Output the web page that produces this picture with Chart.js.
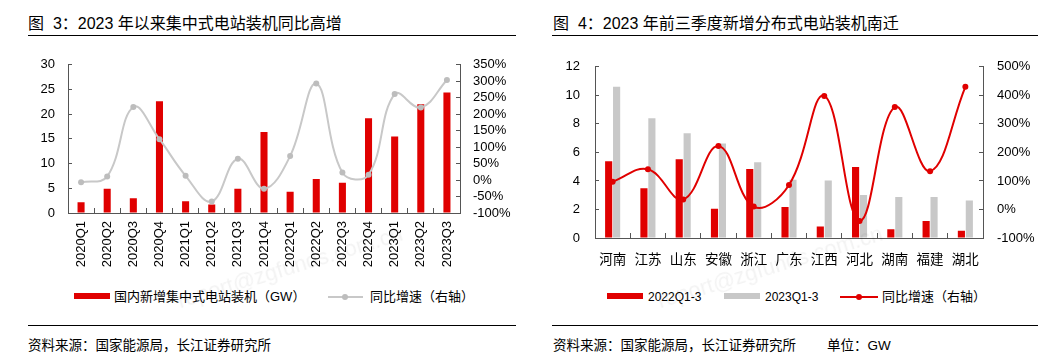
<!DOCTYPE html>
<html>
<head>
<meta charset="utf-8">
<script src="https://cdn.jsdelivr.net/npm/chart.js@4.4.0/dist/chart.umd.min.js"></script>
<style>
  html,body{margin:0;padding:0;background:#fff;}
  body{width:1063px;height:362px;position:relative;overflow:hidden;
       font-family:"Liberation Sans","Noto Sans CJK SC",sans-serif;color:#000;}
  .abs{position:absolute;white-space:nowrap;}
  .title{font-size:16px;line-height:20px;top:14px;}
  .rule{position:absolute;height:1.5px;background:#000;}
  .leg{font-size:13px;line-height:16px;top:289px;}
  .leg12{font-size:12px;line-height:16px;top:289px;}
  .src{font-size:13.5px;line-height:16px;top:338px;}
  canvas{position:absolute;}
  .wm{position:absolute;font-size:22px;color:rgba(0,0,0,0.05);transform:rotate(-17deg);transform-origin:left bottom;white-space:nowrap;pointer-events:none;}
</style>
</head>
<body>
<div class="abs title" style="left:28px;">图&nbsp;&nbsp;3：2023 年以来集中式电站装机同比高增</div>
<div class="abs title" style="left:553px;">图&nbsp;&nbsp;4：2023 年前三季度新增分布式电站装机南迁</div>
<div class="rule" style="left:28px;width:488px;top:34.5px;"></div>
<div class="rule" style="left:552px;width:486px;top:34.5px;"></div>

<canvas id="c1" width="530" height="240" style="left:0;top:40px;width:530px;height:240px;"></canvas>
<canvas id="c2" width="533" height="240" style="left:530px;top:40px;width:533px;height:240px;"></canvas>

<!-- left legend -->
<div class="abs" style="left:74px;top:293px;width:36px;height:6px;background:#e00000;"></div>
<div class="abs leg" style="left:114px;">国内新增集中式电站装机（GW）</div>
<div class="abs" style="left:328px;top:295.5px;width:35px;height:2px;background:#c8c8c8;"></div>
<div class="abs" style="left:342px;top:293.5px;width:6px;height:6px;border-radius:3px;background:#bdbdbd;"></div>
<div class="abs leg" style="left:370px;">同比增速（右轴）</div>

<!-- right legend -->
<div class="abs" style="left:607px;top:293px;width:36px;height:6px;background:#e00000;"></div>
<div class="abs leg12" style="left:648px;">2022Q1-3</div>
<div class="abs" style="left:724px;top:293px;width:36px;height:6px;background:#c8c8c8;"></div>
<div class="abs leg12" style="left:765px;">2023Q1-3</div>
<div class="abs" style="left:840px;top:295.5px;width:38px;height:2px;background:#e00000;"></div>
<div class="abs" style="left:856px;top:293.5px;width:6px;height:6px;border-radius:3px;background:#e00000;"></div>
<div class="abs leg" style="left:882px;">同比增速（右轴）</div>

<div class="rule" style="left:28px;width:488px;top:324.5px;"></div>
<div class="rule" style="left:552px;width:486px;top:324.5px;"></div>
<div class="abs src" style="left:28px;">资料来源：国家能源局，长江证券研究所</div>
<div class="abs src" style="left:553px;">资料来源：国家能源局，长江证券研究所</div>
<div class="abs src" style="left:827px;">单位：GW</div>

<div class="wm" style="left:182px;top:288px;">report@zgfunds.com.cn</div>
<div class="wm" style="left:662px;top:288px;">report@zgfunds.com.cn</div>

<script>
// ---------- data: figure 3 ----------
const quarters = ['2020Q1','2020Q2','2020Q3','2020Q4','2021Q1','2021Q2','2021Q3','2021Q4',
                  '2022Q1','2022Q2','2022Q3','2022Q4','2023Q1','2023Q2','2023Q3'];
const centralizedGW = [2.2, 4.9, 3.0, 22.6, 2.4, 1.7, 4.9, 16.4, 4.3, 6.9, 6.1, 19.2, 15.5, 22.0, 24.4];
const centralizedYoY = [-7, 11, 222, 124, 13, -65, 65, -26, 73, 293, 23, 16, 261, 220, 304];
const fig3LeftAxis = [0, 30, 5];       // min, max, step
const fig3RightAxis = [-100, 350, 50];

// ---------- data: figure 4 ----------
const provinces = ['河南','江苏','山东','安徽','浙江','广东','江西','河北','湖南','福建','湖北'];
const dist2022 = [5.38, 3.49, 5.52, 2.05, 4.84, 2.18, 0.81, 4.98, 0.61, 1.19, 0.50];
const dist2023 = [10.6, 8.4, 7.34, 6.62, 5.31, 4.08, 4.03, 3.02, 2.88, 2.88, 2.63];
const distYoY = [97, 141, 35, 222, 10, 86, 398, -40, 359, 134, 430];
const fig4LeftAxis = [0, 12, 2];
const fig4RightAxis = [-100, 500, 100];

const RED = '#e00000', GREY = '#c8c8c8', AXIS = '#555';
Chart.defaults.font.family = '"Liberation Sans","Noto Sans CJK SC",sans-serif';
Chart.defaults.color = '#000';
Chart.defaults.animation = false;

function fixW(w){ return s => { s.width = w; }; }
function fixH(h){ return s => { s.height = h; }; }
const pct = v => v + '%';

function yAxis(pos, rng, width, pad, cb){
  return {
    position: pos, min: rng[0], max: rng[1],
    grid: { drawOnChartArea: false, drawTicks: true, tickLength: -4, color: AXIS },
    border: { color: AXIS, width: 1 },
    ticks: { stepSize: rng[2], padding: pad, autoSkip: false, font: { size: 13 }, color: '#000',
             callback: cb || (v => v) },
    afterFit: fixW(width)
  };
}

new Chart(document.getElementById('c1'), {
  data: {
    labels: quarters,
    datasets: [
      { type: 'line', data: centralizedYoY, yAxisID: 'y1', order: 0,
        borderColor: GREY, borderWidth: 2, tension: 0.4,
        pointRadius: 3, pointBackgroundColor: '#bdbdbd', pointBorderWidth: 0 },
      { type: 'bar', data: centralizedGW, yAxisID: 'y', order: 1,
        backgroundColor: RED, categoryPercentage: 0.3, barPercentage: 0.9 }
    ]
  },
  options: {
    responsive: false, devicePixelRatio: 1,
    layout: { padding: { top: 20, left: 0, right: 0, bottom: 0 } },
    plugins: { legend: { display: false }, tooltip: { enabled: false } },
    scales: {
      x: {
        grid: { drawOnChartArea: false, drawTicks: true, tickLength: -5, color: AXIS, offset: true },
        border: { color: AXIS, width: 1 },
        ticks: { minRotation: 90, maxRotation: 90, autoSkip: false, padding: 13,
                 font: { size: 13 }, color: '#000' },
        afterFit: fixH(67)
      },
      y: yAxis('left', fig3LeftAxis, 68, 17),
      y1: yAxis('right', fig3RightAxis, 70, 17, pct)
    }
  }
});

new Chart(document.getElementById('c2'), {
  data: {
    labels: provinces,
    datasets: [
      { type: 'line', data: distYoY, yAxisID: 'y1', order: 0,
        borderColor: RED, borderWidth: 2, tension: 0.4,
        pointRadius: 3, pointBackgroundColor: RED, pointBorderWidth: 0 },
      { type: 'bar', data: dist2022, yAxisID: 'y', order: 1,
        backgroundColor: RED, categoryPercentage: 0.45, barPercentage: 0.9 },
      { type: 'bar', data: dist2023, yAxisID: 'y', order: 2,
        backgroundColor: GREY, categoryPercentage: 0.45, barPercentage: 0.9 }
    ]
  },
  options: {
    responsive: false, devicePixelRatio: 1,
    layout: { padding: { top: 20, left: 0, right: 0, bottom: 0 } },
    plugins: { legend: { display: false }, tooltip: { enabled: false } },
    scales: {
      x: {
        grid: { drawOnChartArea: false, drawTicks: true, tickLength: -5, color: AXIS, offset: true },
        border: { color: AXIS, width: 1 },
        ticks: { maxRotation: 0, autoSkip: false, padding: 19, font: { size: 13.5 }, color: '#000' },
        afterFit: fixH(42)
      },
      y: yAxis('left', fig4LeftAxis, 65, 19),
      y1: yAxis('right', fig4RightAxis, 80, 18, pct)
    }
  }
});
</script>
</body>
</html>
